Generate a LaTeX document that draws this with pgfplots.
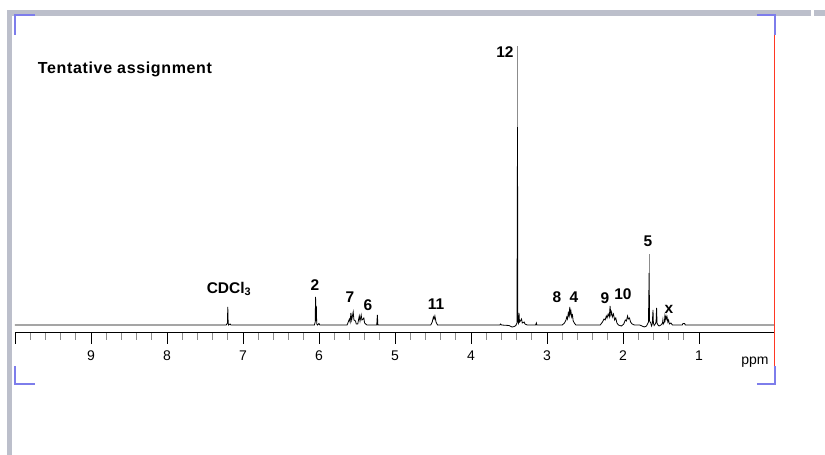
\documentclass[border=0pt]{standalone}
\usepackage{fontspec}
\setmainfont{Liberation Sans}
\usepackage{pgfplots}
\pgfplotsset{compat=1.18}
\definecolor{chrome}{RGB}{188,191,203}
\definecolor{corner}{RGB}{125,125,235}
\definecolor{edge}{RGB}{255,55,35}
\newcommand{\lab}{\fontsize{15.5}{17}\selectfont\bfseries}
\begin{document}
\begin{tikzpicture}
\path[use as bounding box] (0pt,0pt) rectangle (825pt,455pt);
% window frame
\fill[chrome] (7pt,0pt) rectangle (12pt,445pt);
\fill[chrome] (7pt,439pt) rectangle (811pt,445pt);
\fill[chrome] (814pt,439pt) rectangle (825pt,445pt);
\begin{axis}[
  at={(15pt,123pt)}, anchor=south west,
  scale only axis, width=760pt, height=317pt,
  xmin=0, xmax=10, ymin=-7, ymax=310,
  x dir=reverse,
  hide y axis,
  axis x line=bottom, x axis line style={-, line width=0.9pt},
  xtick={1,2,3,4,5,6,7,8,9,10},
  xticklabels={1,2,3,4,5,6,7,8,9,{}},
  minor x tick num=4,
  tick align=outside,
  major tick length=12pt, minor tick length=8pt,
  major tick style={black, line width=0.8pt},
  minor tick style={black!45, line width=0.8pt},
  xticklabel style={font=\fontsize{14}{16}\selectfont, inner sep=1pt, yshift=-6pt},
  /pgf/number format/assume math mode=true,
  clip=false,
]
% spectrum
\addplot[black, line width=0.8pt, no marks] coordinates {
(10,0) (7.22,0) (7.205,2) (7.200,18) (7.195,2) (7.19,0) (7.17,1) (7.16,0)
(6.06,0) (6.05,3) (6.045,28) (6.040,4) (6.035,19) (6.03,1) (6.02,0) (6.00,1.5) (5.99,0)
(5.63,0) (5.615,3) (5.60,6) (5.59,3) (5.58,12) (5.57,5) (5.56,9) (5.55,13) (5.54,5) (5.52,4) (5.51,1)
(5.49,1) (5.47,9) (5.46,4) (5.445,10) (5.435,5) (5.42,6) (5.41,7) (5.40,2) (5.37,0)
(5.24,0) (5.232,10) (5.225,0)
(4.53,0) (4.51,3) (4.495,8) (4.485,6) (4.475,9) (4.46,3) (4.44,0)
(3.62,0) (3.61,1) (3.60,0) (3.50,-0.5) (3.46,-2) (3.43,-1.5) (3.41,-0.5) (3.395,2)
(3.388,198) (3.384,4) (3.375,2) (3.368,12) (3.362,3) (3.35,4) (3.335,6) (3.325,2)
(3.30,3) (3.29,1) (3.26,0) (3.15,0) (3.14,2) (3.135,0)
(2.80,0) (2.77,2) (2.75,5) (2.74,8) (2.73,6) (2.72,12) (2.71,9) (2.70,18) (2.695,11)
(2.685,14) (2.675,8) (2.665,10) (2.655,4) (2.64,2) (2.62,0)
(2.30,0) (2.27,3) (2.25,6) (2.235,5) (2.22,9) (2.21,7) (2.195,11) (2.18,8) (2.17,19)
(2.16,10) (2.15,13) (2.14,8) (2.125,11) (2.11,5) (2.095,7) (2.08,2) (2.06,0) (2.02,-1)
(1.99,1) (1.97,5) (1.955,4) (1.94,9) (1.93,6) (1.915,7) (1.90,3) (1.88,1) (1.85,0)
(1.78,0) (1.72,-2) (1.69,-1) (1.665,3) (1.656,52) (1.650,4) (1.635,2) (1.625,-1)
(1.615,1) (1.605,15) (1.600,2) (1.590,-0.5) (1.575,1) (1.565,3) (1.558,17) (1.552,2)
(1.54,0) (1.525,-1) (1.50,0) (1.48,2) (1.475,5) (1.47,1) (1.455,3) (1.45,8) (1.445,5)
(1.435,9) (1.43,6) (1.42,8) (1.41,3) (1.40,5) (1.39,1) (1.37,2) (1.35,0)
(1.22,0) (1.21,1.5) (1.19,1.5) (1.18,0) (0,0)
};
% thin upper parts of the two tallest lines
\addplot[black!45, line width=0.8pt, no marks] coordinates {(3.388,198) (3.388,279)};
\addplot[black!45, line width=0.8pt, no marks] coordinates {(1.656,52) (1.656,71)};
% assignment labels
\node[anchor=west, inner sep=0pt] at (axis cs:9.70,256) {\fontsize{16}{18}\selectfont\bfseries\addfontfeatures{LetterSpace=4}Tentative assignment};
\node at (axis cs:3.553,273) {\lab 12};
\node at (axis cs:7.184,36) {\lab CDCl\textsubscript{3}};
\node at (axis cs:6.053,40) {\lab 2};
\node at (axis cs:5.592,28) {\lab 7};
\node at (axis cs:5.355,20) {\lab 6};
\node at (axis cs:4.46,21) {\lab 11};
\node at (axis cs:2.868,28) {\lab 8};
\node at (axis cs:2.645,28) {\lab 4};
\node at (axis cs:2.237,27) {\lab 9};
\node at (axis cs:2.00,31) {\lab 10};
\node at (axis cs:1.671,84) {\lab 5};
\node at (axis cs:1.395,16) {\lab x};
\node at (axis cs:0.263,-37) {\fontsize{14}{16}\selectfont ppm};
% frame marks
\draw[edge, line width=1pt] (axis cs:0,310) -- (axis cs:0,-59);
\draw[corner, line width=2pt] (axis cs:9.737,310) -- (axis cs:10,310) -- (axis cs:10,290);
\draw[corner, line width=2pt] (axis cs:0.237,310) -- (axis cs:0,310) -- (axis cs:0,290);
\draw[corner, line width=2pt] (axis cs:9.737,-59) -- (axis cs:10,-59) -- (axis cs:10,-41);
\draw[corner, line width=2pt] (axis cs:0.237,-59) -- (axis cs:0,-59) -- (axis cs:0,-41);
\end{axis}
\end{tikzpicture}
\end{document}
